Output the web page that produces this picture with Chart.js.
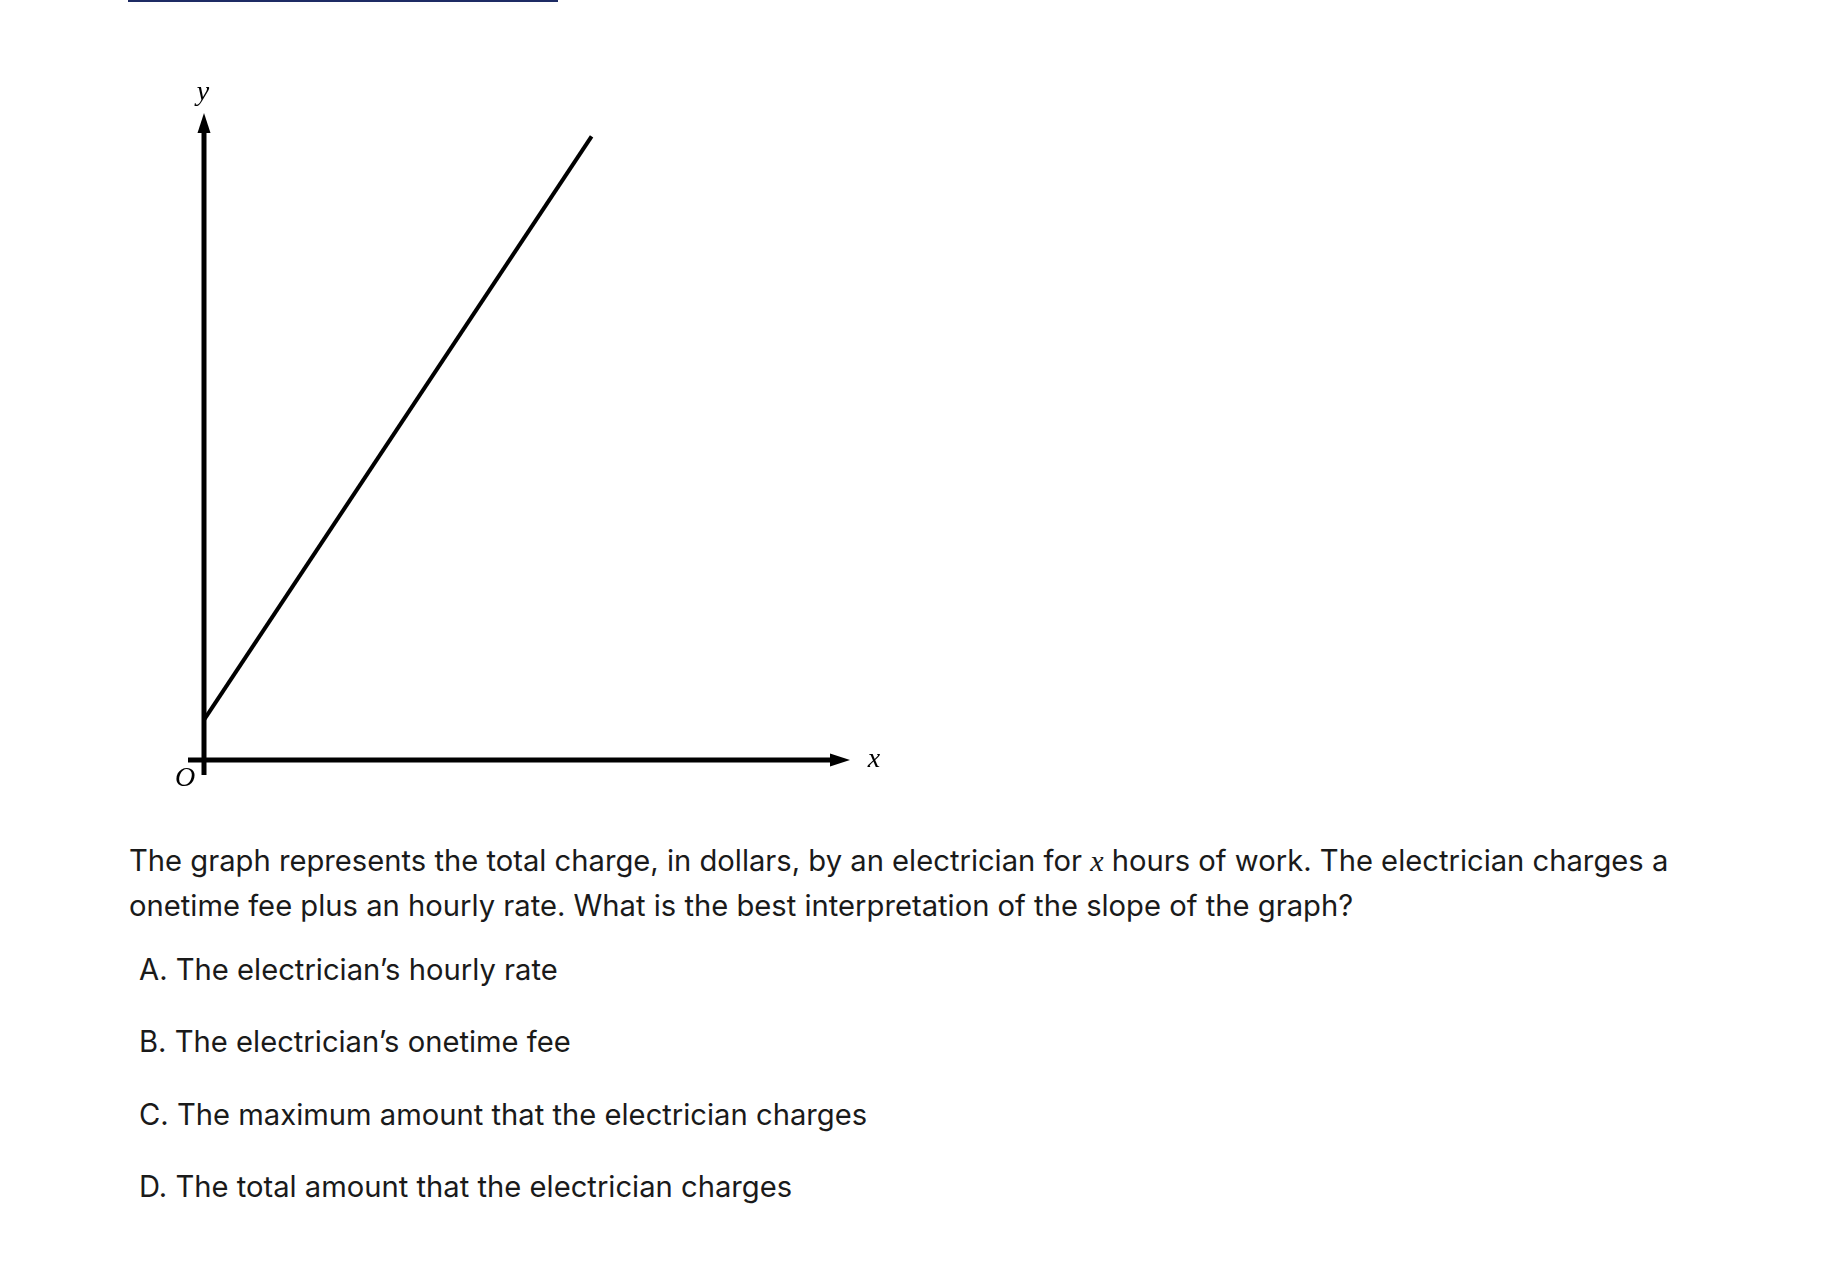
<!DOCTYPE html>
<html>
<head>
<meta charset="utf-8">
<script src="https://cdn.jsdelivr.net/npm/chart.js@4.4.0/dist/chart.umd.min.js"></script>
<style>
  body { margin: 0; background: #fff; width: 1836px; height: 1268px; position: relative; overflow: hidden; }
  .topbar { position: absolute; left: 128px; top: 0; width: 430px; height: 2px; background: #1c2a63; box-shadow: 0 3px 6px rgba(0,0,0,0.04); }
  #chartWrap { position: absolute; left: 0; top: 0; width: 1000px; height: 820px; }
  .txt { position: absolute; font-family: "Inter", "Liberation Sans", sans-serif; font-size: 29.2px; color: #1a1a1a; white-space: nowrap; line-height: 45px; }
  .txt i { font-family: "Liberation Serif", serif; font-size: 30px; }
</style>
</head>
<body>
<div class="topbar"></div>
<div id="chartWrap"><canvas id="lineChart" width="1000" height="820"></canvas></div>

<div class="txt" style="left:129px; top:838px;">The graph represents the total charge, in dollars, by an electrician for <i>x</i> hours of work. The electrician charges a<br>onetime fee plus an hourly rate. What is the best interpretation of the slope of the graph?</div>
<div class="txt" style="left:139px; top:947px;">A. The electrician’s hourly rate</div>
<div class="txt" style="left:139px; top:1019px;">B. The electrician’s onetime fee</div>
<div class="txt" style="left:139px; top:1092px;">C. The maximum amount that the electrician charges</div>
<div class="txt" style="left:139px; top:1164px;">D. The total amount that the electrician charges</div>

<script>
// hours worked vs total charge (no numbers shown on the graph, values read off the pixels)
const hours = [0, 6];
const charge = [6.2, 96.4];

// axis ranges
const xMax = 10;
const yMax = 100;

const axisLabels = { x: "x", y: "y", origin: "O" };

const points = hours.map((h, i) => ({ x: h, y: charge[i] }));

function arrowHead(ctx, x, y, dir, len, half) {
  ctx.beginPath();
  if (dir === "up") {
    ctx.moveTo(x, y);
    ctx.lineTo(x - half, y + len);
    ctx.lineTo(x + half, y + len);
  } else {
    ctx.moveTo(x, y);
    ctx.lineTo(x - len, y - half);
    ctx.lineTo(x - len, y + half);
  }
  ctx.closePath();
  ctx.fill();
}

const axesPlugin = {
  id: "arrowAxes",
  beforeDatasetsDraw(chart) {
    const ctx = chart.ctx;
    const xs = chart.scales.x;
    const ys = chart.scales.y;
    const x0 = xs.getPixelForValue(0);
    const y0 = ys.getPixelForValue(0);
    const xEnd = xs.getPixelForValue(xMax);
    const yEnd = ys.getPixelForValue(yMax);

    ctx.save();
    ctx.strokeStyle = "#000";
    ctx.fillStyle = "#000";
    ctx.lineWidth = 5;
    ctx.lineCap = "butt";

    // x axis, sticks out a little left of the origin
    ctx.beginPath();
    ctx.moveTo(x0 - 16, y0);
    ctx.lineTo(xEnd - 18, y0);
    ctx.stroke();
    arrowHead(ctx, xEnd, y0, "right", 20, 6.5);

    // y axis, sticks out a little below the origin
    ctx.beginPath();
    ctx.moveTo(x0, y0 + 15);
    ctx.lineTo(x0, yEnd + 18);
    ctx.stroke();
    arrowHead(ctx, x0, yEnd, "up", 20, 6.5);

    ctx.font = "italic 28px 'Liberation Serif', serif";
    ctx.textAlign = "center";
    ctx.textBaseline = "middle";
    ctx.fillText(axisLabels.y, x0 - 1, yEnd - 20);
    ctx.fillText(axisLabels.x, xEnd + 24, y0);
    ctx.fillText(axisLabels.origin, x0 - 19, y0 + 19);
    ctx.restore();
  }
};

new Chart(document.getElementById("lineChart"), {
  type: "scatter",
  data: {
    datasets: [{
      data: points,
      showLine: true,
      borderColor: "#000",
      borderWidth: 4,
      pointRadius: 0,
      pointHoverRadius: 0,
      fill: false,
      clip: false
    }]
  },
  options: {
    responsive: false,
    animation: false,
    devicePixelRatio: 1,
    layout: { padding: { left: 204, top: 113, right: 150, bottom: 60 } },
    plugins: { legend: { display: false }, tooltip: { enabled: false } },
    scales: {
      x: {
        type: "linear", min: 0, max: xMax,
        grid: { display: false }, border: { display: false },
        ticks: { display: false },
        afterFit: s => { s.height = 0; }
      },
      y: {
        type: "linear", min: 0, max: yMax,
        grid: { display: false }, border: { display: false },
        ticks: { display: false },
        afterFit: s => { s.width = 0; }
      }
    }
  },
  plugins: [axesPlugin]
});
</script>
</body>
</html>
